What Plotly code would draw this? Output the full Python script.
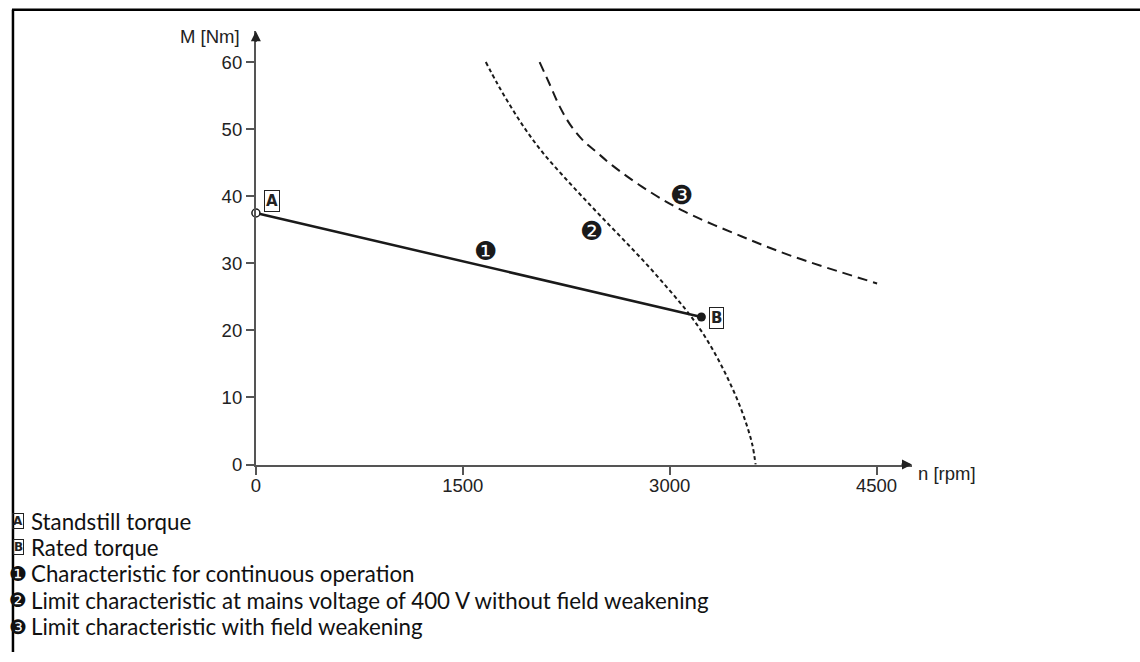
import plotly.graph_objects as go

W, H = 1140, 662

# characteristic curves, speed n [rpm] vs torque M [Nm]
n_cont = [0, 3230]
m_cont = [37.5, 22.0]

n_limit = [1667, 1750, 1850, 1960, 2080, 2220, 2368, 2520, 2680, 2840, 2990, 3120, 3230, 3330, 3420, 3500, 3560, 3600, 3623]
m_limit = [60, 56.8, 53.3, 49.8, 46.5, 43.2, 39.9, 36.6, 33.2, 29.7, 26.2, 23.0, 19.9, 16.5, 12.9, 9.2, 5.8, 2.9, 0]

n_weak = [2057, 2130, 2202, 2281, 2368, 2469, 2584, 2801, 3090, 3523, 3884, 4504]
m_weak = [60, 56.7, 53.4, 50.6, 48.4, 46.6, 44.6, 41.4, 37.9, 34.0, 31.1, 27.0]

x_ticks = [0, 1500, 3000, 4500]
y_ticks = [0, 10, 20, 30, 40, 50, 60]

legend_lines = [
    ("A", "Standstill torque"),
    ("B", "Rated torque"),
    ("\u2776", "Characteristic for continuous operation"),
    ("\u2777", "Limit characteristic at mains voltage of 400 V without field weakening"),
    ("\u2778", "Limit characteristic with field weakening"),
]

AX = "#555555"
TXT = "#222222"
chart_font = "Liberation Sans, Arial, sans-serif"
note_font = "Lato, sans-serif"
sym_font = "DejaVu Sans, sans-serif"

# plot area in pixels
x0_px, x1_px = 252, 911
y0_px, y1_px = 471.7, 31.7


def px(x):
    return x / W


def py(y):
    return 1 - y / H


def label(fig, x, y, text, **kw):
    fig.add_annotation(x=px(x), y=py(y), xref="paper", yref="paper", text=text,
                       showarrow=False, yanchor="middle", **kw)


fig = go.Figure()

fig.add_trace(go.Scatter(x=n_weak, y=m_weak, mode="lines", line_shape="spline",
                         line=dict(color="#1a1a1a", width=2, dash="10px,6px")))
fig.add_trace(go.Scatter(x=n_limit, y=m_limit, mode="lines", line_shape="spline",
                         line=dict(color="#1a1a1a", width=2, dash="4px,3px")))
fig.add_trace(go.Scatter(x=n_cont, y=m_cont, mode="lines",
                         line=dict(color="#1a1a1a", width=2.5)))
fig.add_trace(go.Scatter(x=[n_cont[0]], y=[m_cont[0]], mode="markers", cliponaxis=False,
                         marker=dict(size=8, color="white", line=dict(color="#1a1a1a", width=1.5))))
fig.add_trace(go.Scatter(x=[n_cont[1]], y=[m_cont[1]], mode="markers", cliponaxis=False,
                         marker=dict(size=9, color="#1a1a1a")))

fig.update_layout(
    width=W, height=H,
    margin=dict(l=0, r=0, t=0, b=0),
    paper_bgcolor="white", plot_bgcolor="white",
    showlegend=False,
    font=dict(family=chart_font, size=18.5, color=TXT),
    xaxis=dict(domain=[px(x0_px), px(x1_px)], range=[0, 4757],
               tickvals=x_ticks, showgrid=False, zeroline=False,
               showline=True, linecolor=AX, linewidth=2, ticklabelstandoff=-5,
               ticks="outside", ticklen=8, tickwidth=2, tickcolor=AX),
    yaxis=dict(domain=[py(y0_px), py(y1_px)], range=[0, 64.6],
               tickvals=y_ticks, showgrid=False, zeroline=False,
               showline=True, linecolor=AX, linewidth=2,
               ticks="outside", ticklen=8, tickwidth=2, tickcolor=AX),
)

# axis arrows
fig.add_annotation(x=4757, y=0, xref="x", yref="y", ax=-12, ay=0, axref="pixel", ayref="pixel",
                   text="", showarrow=True, arrowhead=2, arrowsize=1, arrowwidth=2, arrowcolor="#222")
fig.add_annotation(x=0, y=64.6, xref="x", yref="y", ax=0, ay=12, axref="pixel", ayref="pixel",
                   text="", showarrow=True, arrowhead=2, arrowsize=1, arrowwidth=2, arrowcolor="#222")

# axis titles
label(fig, 238, 37, "M [Nm]", xanchor="right")
label(fig, 915, 481, "n [rpm]", xanchor="left")

# labels on the chart
box = dict(xanchor="center", bordercolor="#222", borderwidth=1, borderpad=1,
           font=dict(family=sym_font, size=15, color="#222"))
label(fig, 268.5, 204, "<b>A</b>", **box)
label(fig, 715, 323, "<b>B</b>", **box)

circ = dict(xanchor="center", font=dict(family=sym_font, size=26, color="#1a1a1a"))
label(fig, 483, 255, "\u2776", **circ)
label(fig, 589, 235, "\u2777", **circ)
label(fig, 679, 198, "\u2778", **circ)

# explanation lines below the chart
for i, (mark, desc) in enumerate(legend_lines):
    yy = 529 + i * 26.8
    if mark in ("A", "B"):
        label(fig, 13.5, yy, "<b>" + mark + "</b>", xanchor="center",
              bordercolor="#222", borderwidth=1, borderpad=0,
              font=dict(family=sym_font, size=12, color="#222"))
    else:
        label(fig, 13.5, yy, mark, xanchor="center",
              font=dict(family=sym_font, size=20, color="#111"))
    label(fig, 24, yy, desc, xanchor="left", font=dict(family=note_font, size=22.3, color="#111"))

# frame lines top and left
fig.add_shape(type="line", xref="paper", yref="paper", x0=px(7), x1=1, y0=py(10), y1=py(10),
              line=dict(color="black", width=2.5))
fig.add_shape(type="line", xref="paper", yref="paper", x0=px(8), x1=px(8), y0=py(10), y1=0,
              line=dict(color="black", width=2.5))

fig.write_html("out.html", config={"displayModeBar": False},
               post_script="document.body.style.margin='0';document.body.style.overflow='hidden';")
